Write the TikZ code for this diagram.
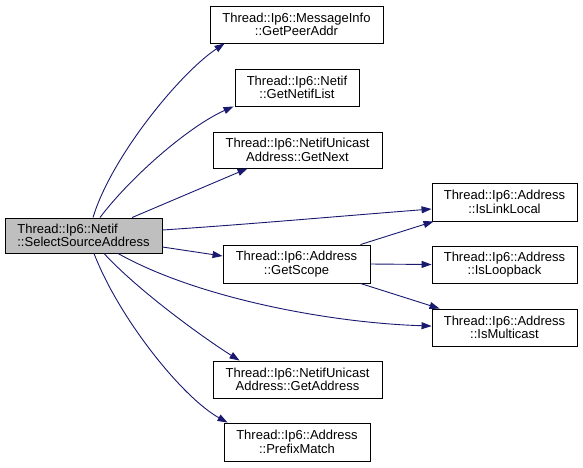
\documentclass[tikz,border=0pt]{standalone}
\usepackage{fontspec}
\setmainfont{Liberation Sans}
\usetikzlibrary{arrows.meta}
\definecolor{edgeblue}{HTML}{191970}
\definecolor{mainfill}{HTML}{BFBFBF}
\begin{document}
\begin{tikzpicture}[x=1pt,y=-1pt,
  fn/.style={draw=black,line width=0.9pt,fill=white,inner sep=0pt,align=center,
    font=\fontsize{13}{13.5}\selectfont},
  mainfn/.style={fn,fill=mainfill,align=left},
  call/.style={draw=edgeblue,line width=0.9pt,-{Triangle[length=10pt,width=7pt]}}]
\useasboundingbox (0,0) rectangle (583,467);
\node[mainfn,minimum width=157pt,minimum height=35pt] (main) at (83.5,235.5) {Thread::Ip6::Netif\\::SelectSourceAddress};
\node[fn,minimum width=173pt,minimum height=37pt] (peer) at (296.5,24.5) {Thread::Ip6::MessageInfo\\::GetPeerAddr};
\node[fn,minimum width=124pt,minimum height=37pt] (list) at (297,87.5) {Thread::Ip6::Netif\\::GetNetifList};
\node[fn,minimum width=169pt,minimum height=36pt] (next) at (297.5,150) {Thread::Ip6::NetifUnicast\\Address::GetNext};
\node[fn,minimum width=147pt,minimum height=38pt] (scope) at (296.5,264) {Thread::Ip6::Address\\::GetScope};
\node[fn,minimum width=169pt,minimum height=37pt] (addr) at (297.5,379.5) {Thread::Ip6::NetifUnicast\\Address::GetAddress};
\node[fn,minimum width=146pt,minimum height=38pt] (prefix) at (297,442) {Thread::Ip6::Address\\::PrefixMatch};
\node[fn,minimum width=145pt,minimum height=38pt] (link) at (504.5,202) {Thread::Ip6::Address\\::IsLinkLocal};
\node[fn,minimum width=145pt,minimum height=37pt] (loop) at (504.5,264.5) {Thread::Ip6::Address\\::IsLoopback};
\node[fn,minimum width=145pt,minimum height=37pt] (multi) at (504.5,327.5) {Thread::Ip6::Address\\::IsMulticast};

\draw[call] ([xshift=9.5pt]main.north) .. controls +(18,-60) and +(-45,30) .. ([xshift=15pt]peer.south west);
\draw[call] ([xshift=16.5pt]main.north) .. controls +(30,-40) and +(-45,20) .. ([xshift=-1pt]list.south west);
\draw[call] ([xshift=48.5pt]main.north) -- ([xshift=35pt]next.south west);
\draw[call] ([yshift=5.5pt]main.east) .. controls +(90,-6) and +(-90,7) .. ([yshift=-7pt]link.west);
\draw[call] ([yshift=-11.5pt]main.east) -- ([yshift=8pt]scope.west);
\draw[call] ([xshift=34.5pt]main.south) .. controls +(80,45) and +(-100,-3) .. ([yshift=1.5pt]multi.west);
\draw[call] ([xshift=20.5pt]main.south) .. controls +(35,38) and +(-35,-22) .. ([xshift=27pt]addr.north west);
\draw[call] ([xshift=10.5pt]main.south) .. controls +(25,65) and +(-45,-25) .. ([xshift=4pt]prefix.north west);
\draw[call] ([xshift=-10pt]scope.north east) -- ([xshift=2pt]link.south west);
\draw[call] (scope.east) -- (loop.west);
\draw[call] ([xshift=-10pt]scope.south east) -- ([xshift=8pt]multi.north west);
\end{tikzpicture}
\end{document}
